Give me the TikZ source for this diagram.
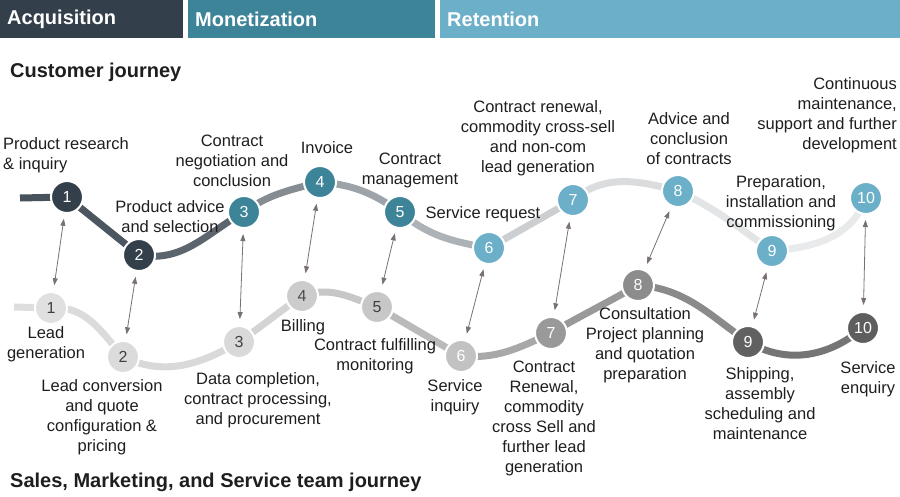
\documentclass[tikz,border=0pt]{standalone}
\usepackage{fontspec}
\setmainfont{Liberation Sans}
\usepackage{tikz}
\usetikzlibrary{arrows.meta,backgrounds}
\definecolor{acq}{HTML}{333F4A}
\definecolor{mon}{HTML}{3D8499}
\definecolor{ret}{HTML}{6BB0C8}
\definecolor{ink}{HTML}{1E1E1E}
\definecolor{arrgray}{HTML}{78716F}

\begin{document}
\begin{tikzpicture}[x=1pt, y=1pt,
          hdr/.style={anchor=north west, minimum height=38pt, inner xsep=7pt,
                      align=left, font=\fontsize{20}{24}\selectfont\bfseries,
                      text=white},
          ttl/.style={anchor=west, inner sep=0pt,
                      font=\fontsize{20}{24}\selectfont\bfseries, text=ink},
          stepc/.style={circle, draw=white, line width=2pt, minimum size=32pt,
                      inner sep=0pt, font=\fontsize{16}{16}\selectfont, text=white},
          lbl/.style={align=center, inner sep=0pt,
                      font=\fontsize{16.5}{20}\selectfont, text=ink},
          trk/.style={line width=7pt},
          arr/.style={{Triangle[length=7pt,width=5pt]}-{Triangle[length=7pt,width=5pt]},
                      line width=0.8pt, arrgray, shorten <=5pt, shorten >=6pt}
        ]
          \useasboundingbox (0,0) rectangle (900,-496);
          % phase headers
          \node[hdr, fill=acq, text width=169pt] (acqh) at (0,0) {Acquisition};
          \node[hdr, fill=mon, text width=233pt] (monh) at (188,0) {Monetization};
          \node[hdr, fill=ret, text width=446pt] (reth) at (440,0) {Retention};
          \node[ttl] (ctitle) at (10,-72) {Customer journey};
          \node[ttl] (stitle) at (10,-482) {Sales, Marketing, and Service team journey};
          % customer journey
          \node[stepc, fill=acq] (c1) at (67,-197) {1};
          \node[stepc, fill=acq] (c2) at (139,-255) {2};
          \node[stepc, fill=mon] (c3) at (244,-212) {3};
          \node[stepc, fill=mon] (c4) at (320,-182) {4};
          \node[stepc, fill=mon] (c5) at (400,-212) {5};
          \node[stepc, fill=ret] (c6) at (489,-248) {6};
          \node[stepc, fill=ret] (c7) at (573,-200) {7};
          \node[stepc, fill=ret] (c8) at (678,-191) {8};
          \node[stepc, fill=ret] (c9) at (772,-251) {9};
          \node[stepc, fill=ret] (c10) at (866,-198) {10};
          % team journey
          \node[stepc, fill=black!12, text=black!75] (s1) at (51,-308) {1};
          \node[stepc, fill=black!14, text=black!75] (s2) at (123,-357) {2};
          \node[stepc, fill=black!15, text=black!75] (s3) at (239,-342) {3};
          \node[stepc, fill=black!20, text=black!70] (s4) at (302,-296) {4};
          \node[stepc, fill=black!22, text=black!75] (s5) at (377,-307) {5};
          \node[stepc, fill=black!24] (s6) at (461,-356) {6};
          \node[stepc, fill=black!40] (s7) at (551,-333) {7};
          \node[stepc, fill=black!45] (s8) at (638,-285) {8};
          \node[stepc, fill=black!62] (s9) at (748,-342) {9};
          \node[stepc, fill=black!63] (s10) at (863,-328) {10};
          % customer labels
          \node[lbl, anchor=west, align=left] (lc1) at (3,-155) {Product research\\\& inquiry};
          \node[lbl] (lc2) at (170,-217) {Product advice\\and selection};
          \node[lbl] (lc3) at (232,-161) {Contract\\negotiation and\\conclusion};
          \node[lbl] (lc4) at (327,-148) {Invoice};
          \node[lbl] (lc5) at (410,-170) {Contract\\management};
          \node[lbl] (lc6) at (483,-214) {Service request};
          \node[lbl] (lc7) at (538,-138) {Contract renewal,\\commodity cross-sell\\and non-com\\lead generation};
          \node[lbl] (lc8) at (689,-139) {Advice and\\conclusion\\of contracts};
          \node[lbl] (lc9) at (781,-203) {Preparation,\\installation and\\commissioning};
          \node[lbl, anchor=east, align=right] (lc10) at (897,-115) {Continuous\\maintenance,\\support and further\\development};
          % team labels
          \node[lbl] (ls1) at (46,-344) {Lead\\generation};
          \node[lbl] (ls2) at (102,-417) {Lead conversion\\and quote\\configuration \&\\pricing};
          \node[lbl] (ls3) at (258,-400) {Data completion,\\contract processing,\\and procurement};
          \node[lbl] (ls4) at (303,-327) {Billing};
          \node[lbl] (ls5) at (375,-356) {Contract fulfilling\\monitoring};
          \node[lbl] (ls6) at (455,-397) {Service\\inquiry};
          \node[lbl] (ls7) at (544,-418) {Contract\\Renewal,\\commodity\\cross Sell and\\further lead\\generation};
          \node[lbl] (ls8) at (645,-345) {Consultation\\Project planning\\and quotation\\preparation};
          \node[lbl] (ls9) at (760,-404) {Shipping,\\assembly\\scheduling and\\maintenance};
          \node[lbl] (ls10) at (868,-379) {Service\\enquiry};
          % links between the two journeys
          \draw[arr] (c1) -- (s1);
          \draw[arr] (c2) -- (s2);
          \draw[arr] (c3) -- (s3);
          \draw[arr] (c4) -- (s4);
          \draw[arr] (c5) -- (s5);
          \draw[arr] (c6) -- (s6);
          \draw[arr] (c7) -- (s7);
          \draw[arr] (c8) -- (s8);
          \draw[arr] (c9) -- (s9);
          \draw[arr] (c10) -- (s10);
          % tracks behind the steps
          \begin{scope}[on background layer]
            \coordinate (cstart) at (20,-198);
            \coordinate (sstart) at (14,-307);
            \draw[trk, acq!90] (cstart) -- (c1.center);
            \draw[trk, acq!88] (c1.center) -- (c2.center);
            \draw[trk, acq!80] (c2.center) to[out=-10, in=-150] (c3.center);
            \draw[trk, acq!60] (c3.center) to[out=35, in=-165] (c4.center);
            \draw[trk, acq!48] (c4.center) to[out=-5, in=145] (c5.center);
            \draw[trk, acq!40] (c5.center) to[out=-40, in=170] (c6.center);
            \draw[trk, acq!25] (c6.center) to[out=30, in=-150] (c7.center);
            \draw[trk, acq!18] (c7.center) to[out=40, in=165] (c8.center);
            \draw[trk, acq!14] (c8.center) to[out=-25, in=145] (c9.center);
            \draw[trk, acq!11] (c9.center) to[out=5, in=-110] (c10.center);
            \draw[trk, black!13] (sstart) -- (s1.center);
            \draw[trk, black!14] (s1.center) to[out=5, in=130] (s2.center);
            \draw[trk, black!15] (s2.center) to[out=-25, in=-150] (s3.center);
            \draw[trk, black!17] (s3.center) to[out=35, in=-145] (s4.center);
            \draw[trk, black!22] (s4.center) to[out=20, in=160] (s5.center);
            \draw[trk, black!27] (s5.center) to[out=-30, in=150] (s6.center);
            \draw[trk, black!34] (s6.center) to[out=-5, in=-155] (s7.center);
            \draw[trk, black!40] (s7.center) to[out=30, in=-150] (s8.center);
            \draw[trk, black!46] (s8.center) to[out=-5, in=145] (s9.center);
            \draw[trk, black!54] (s9.center) to[out=-30, in=-140] (s10.center);
          \end{scope}
        \end{tikzpicture}
\end{document}
